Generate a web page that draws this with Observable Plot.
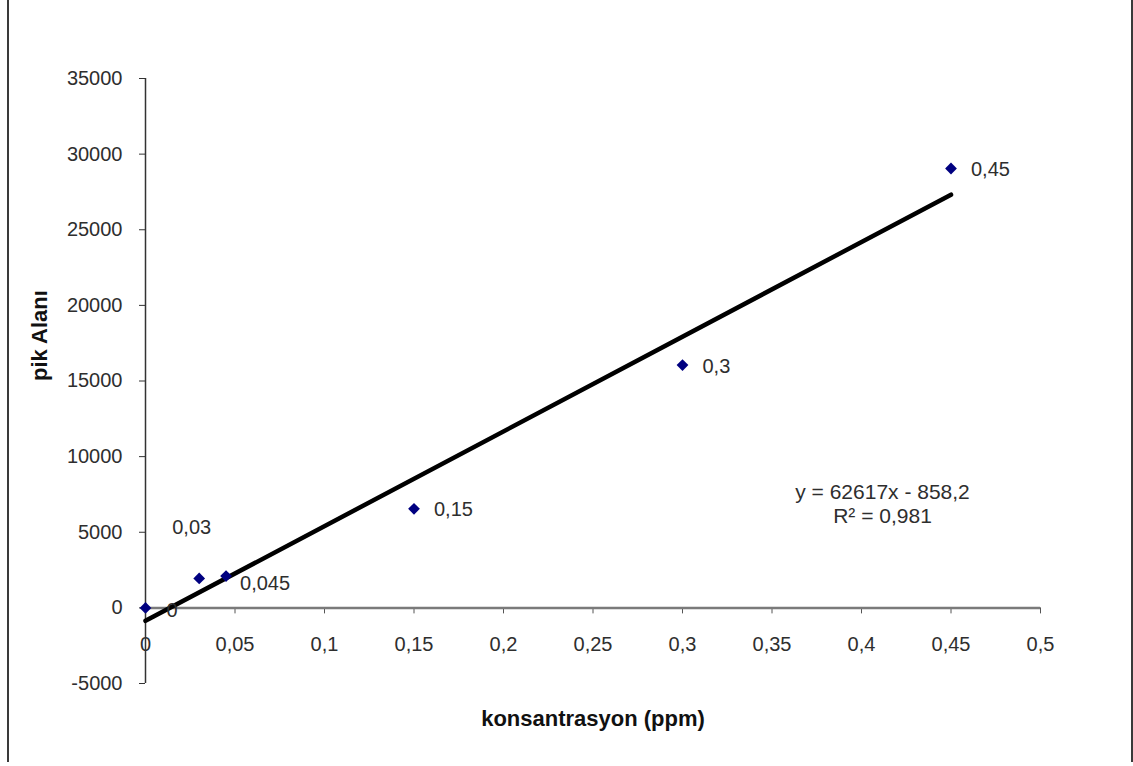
<!DOCTYPE html>
<html>
<head>
<meta charset="utf-8">
<script src="https://cdn.jsdelivr.net/npm/d3@7"></script>
<script src="https://cdn.jsdelivr.net/npm/@observablehq/plot@0.6"></script>
<style>
  html, body { margin: 0; padding: 0; background: white; }
  #wrap { position: relative; width: 1133px; height: 766px; }
  #border { position: absolute; left: 7px; top: -4px; width: 1122px; height: 766px;
            border-left: 2px solid #3a3a3a; border-right: 2px solid #3a3a3a; pointer-events: none; }
</style>
</head>
<body>
<div id="wrap"><div id="border"></div></div>
<script>
// Data
const concentrations = [0, 0.03, 0.045, 0.15, 0.3, 0.45];
const peakAreas = [0, 1950, 2100, 6550, 16050, 29050];
// Trendline (as shown on chart)
const slope = 62617;
const intercept = -858.2;
const equationLines = ["y = 62617x - 858,2", "R² = 0,981"];
// Axis ticks
const xTicks = [0, 0.05, 0.1, 0.15, 0.2, 0.25, 0.3, 0.35, 0.4, 0.45, 0.5];
const yTicks = [-5000, 0, 5000, 10000, 15000, 20000, 25000, 30000, 35000];
const xTitle = "konsantrasyon (ppm)";
const yTitle = "pik Alanı";

const comma = d => String(d).replace(".", ",");
const points = concentrations.map((x, i) => ({x, y: peakAreas[i], label: comma(x)}));
const trend = d3.extent(concentrations).map(x => ({x, y: slope * x + intercept}));

const W = 1133, H = 766, mL = 145, mR = 93, mT = 78, mB = 83;
const yDomain = [d3.min(yTicks), d3.max(yTicks)];
const innerH = H - mT - mB;
const zeroOffset = innerH * (0 - yDomain[0]) / (yDomain[1] - yDomain[0]);

const labelColor = "#2e2e2e";
const standard = d => d.x >= 0.15;

const chart = Plot.plot({
  width: W, height: H,
  marginLeft: mL, marginRight: mR, marginTop: mT, marginBottom: mB,
  x: {domain: [d3.min(xTicks), d3.max(xTicks)]},
  y: {domain: yDomain},
  style: {fontFamily: "'Liberation Sans', Arial, sans-serif", fontSize: "20px", color: labelColor, background: "white"},
  marks: [
    Plot.axisY(yTicks, {tickSize: 6, tickPadding: 17, tickFormat: d => String(d), label: null, stroke: "#333", fontSize: 20}),
    Plot.axisX(xTicks, {tickSize: 6, tickPadding: 23, dy: -zeroOffset, tickFormat: comma, label: null, stroke: "#555", fontSize: 20}),
    Plot.ruleX([0], {stroke: "#333", strokeWidth: 1.5}),
    Plot.ruleY([0], {stroke: "#7a7a7a", strokeWidth: 2.5}),
    Plot.line(trend, {x: "x", y: "y", stroke: "black", strokeWidth: 4.5}),
    Plot.dot(points, {x: "x", y: "y", symbol: "diamond2", r: 5.3, fill: "#000080", stroke: "none"}),
    Plot.text(points, {filter: standard, x: "x", y: "y", text: "label", textAnchor: "start", dx: 20, dy: 1, fill: labelColor, fontSize: 20}),
    Plot.text(points, {filter: d => d.x === 0.045, x: "x", y: "y", text: "label", textAnchor: "start", dx: 14, dy: 7, fill: labelColor, fontSize: 20}),
    Plot.text(points, {filter: d => d.x === 0.03, x: "x", y: "y", text: "label", textAnchor: "start", dx: -27, dy: -51, fill: labelColor, fontSize: 20}),
    Plot.text(points, {filter: d => d.x === 0, x: "x", y: "y", text: "label", textAnchor: "start", dx: 21, dy: 3, fill: labelColor, fontSize: 20}),
    Plot.text([equationLines.join("\n")], {frameAnchor: "top-left", dx: 737, dy: 403, textAnchor: "middle", lineHeight: 1.15, fontSize: 21, fill: labelColor}),
    Plot.text([xTitle], {frameAnchor: "bottom", dy: 42, fontWeight: "bold", fontSize: 22, fill: "#111"}),
    Plot.text([yTitle], {frameAnchor: "left", dx: -106, rotate: -90, fontWeight: "bold", fontSize: 22, fill: "#111"})
  ]
});
document.getElementById("wrap").prepend(chart);
</script>
</body>
</html>
